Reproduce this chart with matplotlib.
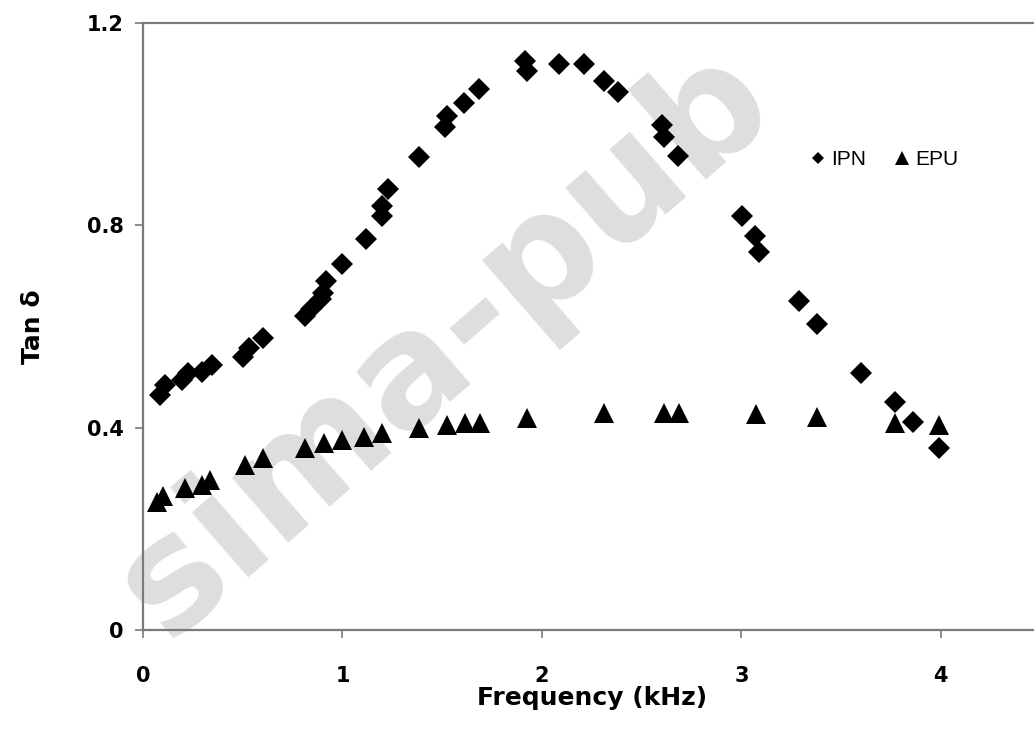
import numpy as np
import matplotlib
matplotlib.use("Agg")
import matplotlib.pyplot as plt
from matplotlib.lines import Line2D

# datos (frecuencia en kHz, tan delta)
ipn_x = [0.085, 0.11, 0.195, 0.225, 0.295, 0.345, 0.50, 0.53, 0.60, 0.81,
         0.84, 0.89, 0.90, 0.92, 1.0, 1.12, 1.2, 1.2, 1.23, 1.385,
         1.515, 1.525, 1.61, 1.686, 1.917, 1.927, 2.087, 2.21, 2.31, 2.38,
         2.60, 2.61, 2.68, 3.005, 3.07, 3.09, 3.29, 3.38, 3.60, 3.77,
         3.86, 3.99]
ipn_y = [0.465, 0.485, 0.495, 0.509, 0.51, 0.523, 0.539, 0.558, 0.578, 0.62,
         0.635, 0.655, 0.667, 0.69, 0.723, 0.774, 0.818, 0.838, 0.871, 0.936,
         0.994, 1.016, 1.042, 1.069, 1.125, 1.105, 1.119, 1.119, 1.085, 1.063,
         0.998, 0.974, 0.937, 0.818, 0.778, 0.748, 0.65, 0.604, 0.509, 0.451,
         0.412, 0.36]

epu_x = [0.07, 0.10, 0.21, 0.295, 0.336, 0.51, 0.60, 0.81, 0.91, 1.0,
         1.11, 1.2, 1.385, 1.525, 1.615, 1.69, 1.925, 2.31, 2.61, 2.685,
         3.075, 3.38, 3.77, 3.99]
epu_y = [0.253, 0.265, 0.281, 0.287, 0.297, 0.327, 0.34, 0.36, 0.37, 0.376,
         0.382, 0.39, 0.40, 0.406, 0.41, 0.41, 0.42, 0.43, 0.43, 0.43,
         0.428, 0.422, 0.41, 0.406]

xticks = [0, 1, 2, 3, 4]
yticks = [0, 0.4, 0.8, 1.2]
ytick_labels = ["0", "0.4", "0.8", "1.2"]

fig = plt.figure(figsize=(10.34, 7.29), dpi=100)
ax = fig.add_axes([0.1383, 0.1358, 0.868, 0.8326])
ax.patch.set_alpha(0)

# marca de agua gris de fondo
fig.text(0.43, 0.53, "sima-pub", rotation=41, fontsize=112, fontweight="bold",
         color="#dedede", ha="center", va="center", zorder=-5)

ax.plot(ipn_x, ipn_y, "D", color="black", ms=11, mew=0, label="IPN")
ax.plot(epu_x, epu_y, "^", color="black", ms=15, mew=0, label="EPU")

ax.set_xlim(0, 4.5)
ax.set_ylim(0, 1.2)
ax.set_xticks(xticks)
ax.set_yticks(yticks)
ax.set_yticklabels(ytick_labels)

for s in ["left", "bottom", "top", "right"]:
    ax.spines[s].set_color("#7a7a7a")
    ax.spines[s].set_linewidth(1.6)

ax.tick_params(axis="both", direction="out", length=6, width=1.2,
               color="#7a7a7a", labelsize=15)
ax.tick_params(axis="x", pad=20)
ax.tick_params(axis="y", pad=8)
for lab in ax.get_xticklabels() + ax.get_yticklabels():
    lab.set_fontweight("bold")

ax.set_xlabel("Frequency (kHz)", fontsize=18, fontweight="bold", labelpad=0)
ax.set_ylabel("Tan δ", fontsize=18, fontweight="bold", labelpad=30)

handles = [Line2D([], [], ls="none", marker="D", color="black", ms=6, mew=0),
           Line2D([], [], ls="none", marker="^", color="black", ms=10, mew=0)]
ax.legend(handles, ["IPN", "EPU"], ncol=2, frameon=False,
          loc="center left", bbox_to_anchor=(0.773, 0.781),
          bbox_transform=fig.transFigure, borderpad=0,
          handlelength=0.8, handletextpad=0.25, columnspacing=1.3,
          prop={"family": "Liberation Sans", "size": 15})

fig.savefig("out.png", dpi=100)
